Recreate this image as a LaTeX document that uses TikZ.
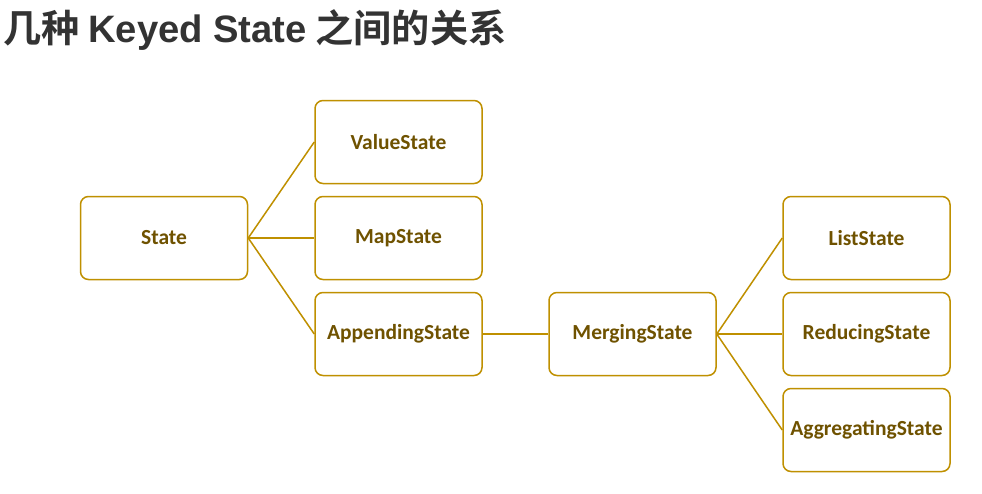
\documentclass[tikz,border=0pt]{standalone}
\usepackage{fontspec}
\setmainfont{Carlito}
\newfontfamily\cjkfont{Noto Sans CJK SC}[BoldFont={Noto Sans CJK SC Bold}]
\newfontfamily\latinfont{Liberation Sans}
\definecolor{goldline}{HTML}{BF9000}
\definecolor{goldtext}{HTML}{6F5200}
\definecolor{titlegray}{HTML}{333333}
\newcommand{\boxlabel}[1]{\raisebox{-1pt}{#1}}
\begin{document}
\begin{tikzpicture}[x=1pt,y=-1pt,
  statebox/.style={draw=goldline, line width=1.5pt, rounded corners=8pt, fill=white,
    minimum width=167pt, minimum height=83pt, inner sep=0pt,
    font=\fontsize{21.5}{24}\selectfont\bfseries, text=goldtext},
  link/.style={draw=goldline, line width=1.5pt}]
\useasboundingbox[fill=white] (0,0) rectangle (982,493);
\node[anchor=base west, inner sep=0pt, text=titlegray, font=\bfseries\fontsize{38.2}{42}\selectfont] (title) at (3,42) {{\cjkfont 几种} {\latinfont Keyed State} {\cjkfont 之间的关系}};
\node[statebox] (state) at (164,238) {\boxlabel{State}};
\node[statebox] (value) at (398.5,142) {\boxlabel{ValueState}};
\node[statebox] (map) at (398.5,238) {\boxlabel{MapState}};
\node[statebox] (append) at (398.5,334) {\boxlabel{AppendingState}};
\node[statebox] (merge) at (632.5,334) {\boxlabel{MergingState}};
\node[statebox] (list) at (866.5,238) {\boxlabel{ListState}};
\node[statebox] (reduce) at (866.5,334) {\boxlabel{ReducingState}};
\node[statebox] (aggr) at (866.5,430) {\boxlabel{AggregatingState}};
\draw[link] (state.east) -- (value.west);
\draw[link] (state.east) -- (map.west);
\draw[link] (state.east) -- (append.west);
\draw[link] (append.east) -- (merge.west);
\draw[link] (merge.east) -- (list.west);
\draw[link] (merge.east) -- (reduce.west);
\draw[link] (merge.east) -- (aggr.west);
\end{tikzpicture}
\end{document}
